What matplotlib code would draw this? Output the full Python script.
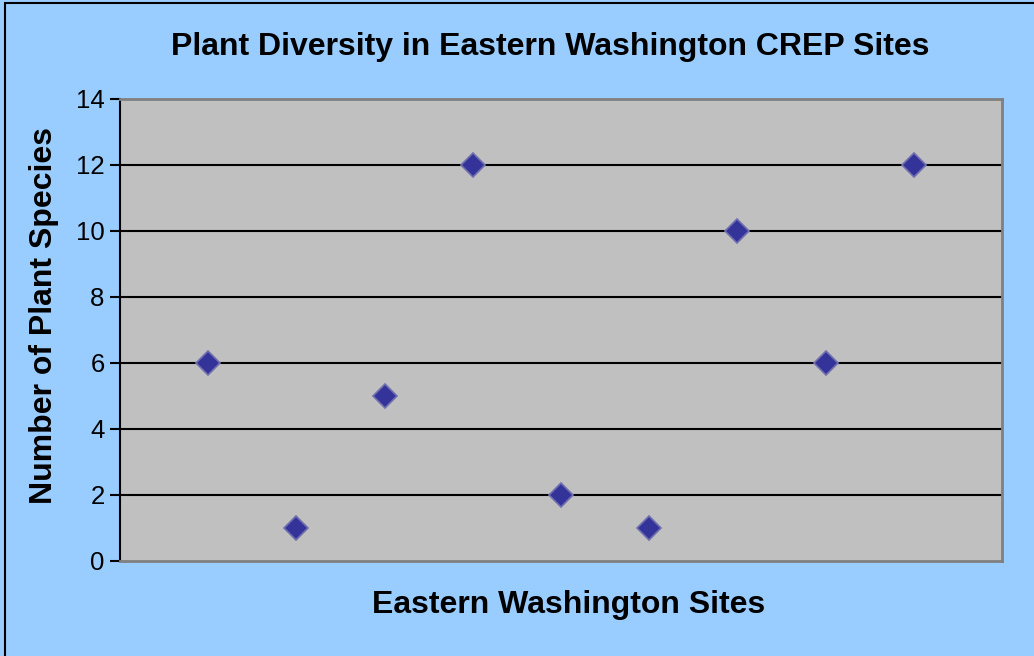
import matplotlib
matplotlib.use("Agg")
import matplotlib.pyplot as plt
from matplotlib.patches import Rectangle

plt.rcParams['font.family'] = ['Liberation Sans', 'DejaVu Sans']

sites = [1, 2, 3, 4, 5, 6, 7, 8, 9]
species = [6, 1, 5, 12, 2, 1, 10, 6, 12]
yticks = [0, 2, 4, 6, 8, 10, 12, 14]

W, H = 1034, 656
fig = plt.figure(figsize=(W/100, H/100), dpi=100, facecolor='#99CCFF')
ax = fig.add_axes([120/W, 1 - 561/H, (1002-120)/W, (561-99)/H])
ax.set_facecolor('#C0C0C0')

# figure border
fig.patches.append(Rectangle((5/W, -0.1), 1.2, 1.1 - 3/H, transform=fig.transFigure,
                             fill=False, edgecolor='black', linewidth=1.5, zorder=10))

ax.set_xlim(0, 10)
ax.set_ylim(0, 14)
ax.set_yticks(yticks)
ax.set_xticks([])
ax.tick_params(axis='y', direction='out', length=7, width=1.5, color='black',
               labelsize=18.5, pad=4)
for y in yticks[1:-1]:
    ax.axhline(y, color='black', linewidth=1.5, zorder=1)

for s in ['top', 'right', 'bottom']:
    ax.spines[s].set_color('#808080')
    ax.spines[s].set_linewidth(2)
ax.spines['left'].set_color('black')
ax.spines['left'].set_linewidth(1.5)

ax.plot(sites, species, linestyle='none', marker='D', markersize=12,
        markerfacecolor='#333399', markeredgecolor='#7070B0', markeredgewidth=1.2,
        zorder=3, clip_on=False)

fig.text(550/W, 1 - 47/H, 'Plant Diversity in Eastern Washington CREP Sites',
         ha='center', va='center', fontsize=23, fontweight='bold')
fig.text(569/W, 1 - 605/H, 'Eastern Washington Sites', ha='center', va='center',
         fontsize=23, fontweight='bold')
fig.text(44/W, 1 - 315/H, 'Number of Plant Species', ha='center', va='center',
         rotation=90, fontsize=23, fontweight='bold')

fig.savefig('out.png', dpi=100, facecolor=fig.get_facecolor())
